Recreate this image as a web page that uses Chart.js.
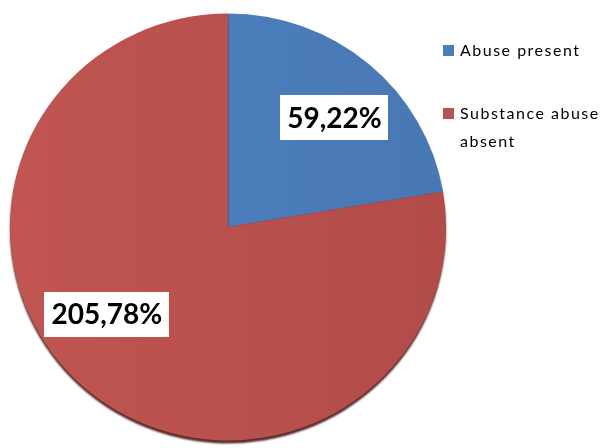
<!DOCTYPE html>
<html>
<head>
<meta charset="utf-8">
<script src="https://cdn.jsdelivr.net/npm/chart.js@4.4.0/dist/chart.umd.min.js"></script>
<style>
  html, body { margin: 0; padding: 0; background: #fff; }
  #wrap { width: 608px; height: 448px; }
</style>
</head>
<body>
<div id="wrap"><canvas id="canvas" width="608" height="448"></canvas></div>
<script>
var categories = ["Abuse present", "Substance abuse absent"];
var legendLines = [["Abuse present"], ["Substance abuse", "absent"]];
var counts = [59, 205];
var colors = ["#4a7ebb", "#b9514f"];
var colorsLight = ["#4d82c0", "#c05551"];
var colorsDark = ["#4878b4", "#b24c49"];

// label anchors: extra turn from the slice middle (deg) and distance as fraction of radius
var labelTurn = [4, 14];
var labelDist = [0.70, 0.685];

var squashY = 0.979;	// pie is a little flatter than a circle

function pct(i){
	var sum = 0;
	for(var k = 0; k < counts.length; k++){ sum += counts[k]; }
	return Math.round(counts[i] / sum * 100);
}

function sliceFill(c){
	var area = c.chart.chartArea;
	if(!area){ return colors[c.dataIndex]; }
	var g = c.chart.ctx.createLinearGradient(area.left, 0, area.right, 0);
	g.addColorStop(0, colorsLight[c.dataIndex]);
	g.addColorStop(1, colorsDark[c.dataIndex]);
	return g;
}

// flatten the pie a bit and put a dark rim under it
var shadowPlugin = {
	id: "pieShadow",
	beforeDatasetsDraw: function(chart){
		var ctx = chart.ctx;
		var arc = chart.getDatasetMeta(0).data[0];
		ctx.save();
		ctx.translate(0, arc.y);
		ctx.scale(1, squashY);
		ctx.translate(0, -arc.y);
		ctx.shadowColor = "rgba(70,20,20,0.9)";
		ctx.shadowBlur = 2;
		ctx.shadowOffsetY = 3;
	},
	afterDatasetsDraw: function(chart){
		chart.ctx.restore();
	}
};

var labelPlugin = {
	id: "pieLabels",
	afterDraw: function(chart){
		var ctx = chart.ctx;
		var meta = chart.getDatasetMeta(0);
		ctx.save();
		ctx.font = "bold 28px Lato";
		ctx.textAlign = "center";
		ctx.textBaseline = "middle";
		for(var i = 0; i < meta.data.length; i++){
			var arc = meta.data[i];
			var mid = (arc.startAngle + arc.endAngle) / 2 + labelTurn[i] * Math.PI / 180;
			var r = arc.outerRadius * labelDist[i];
			var x = arc.x + Math.cos(mid) * r;
			var y = arc.y + Math.sin(mid) * r;
			var txt = counts[i] + "," + pct(i) + "%";
			var w = ctx.measureText(txt).width + 14;
			var h = 45;
			ctx.fillStyle = "#fff";
			ctx.fillRect(Math.round(x - w / 2), Math.round(y - h / 2), Math.round(w), h);
			ctx.fillStyle = "#000";
			ctx.fillText(txt, x, y + 1);
		}
		ctx.restore();

		// legend on the right
		ctx.save();
		ctx.font = "16px Lato";
		ctx.letterSpacing = "1.5px";
		ctx.textBaseline = "middle";
		ctx.textAlign = "left";
		var ly = [51, 114];
		for(var i = 0; i < categories.length; i++){
			ctx.fillStyle = colors[i];
			ctx.fillRect(443, ly[i] - 6, 11, 11);
			ctx.fillStyle = "#000";
			for(var j = 0; j < legendLines[i].length; j++){
				ctx.fillText(legendLines[i][j], 460, ly[i] + j * 28);
			}
		}
		ctx.restore();
	}
};

var canvas = document.getElementById("canvas");
var ctx = canvas.getContext("2d");
var chart = new Chart(ctx, {
	type: "pie",
	data: {
		labels: categories,
		datasets: [{
			data: counts,
			backgroundColor: sliceFill,
			borderWidth: 0
		}]
	},
	options: {
		responsive: false,
		animation: false,
		layout: { padding: { left: 10, top: 9, right: 162, bottom: 3 } },
		plugins: {
			legend: { display: false },
			tooltip: { enabled: false }
		}
	},
	plugins: [shadowPlugin, labelPlugin]
});
</script>
</body>
</html>
